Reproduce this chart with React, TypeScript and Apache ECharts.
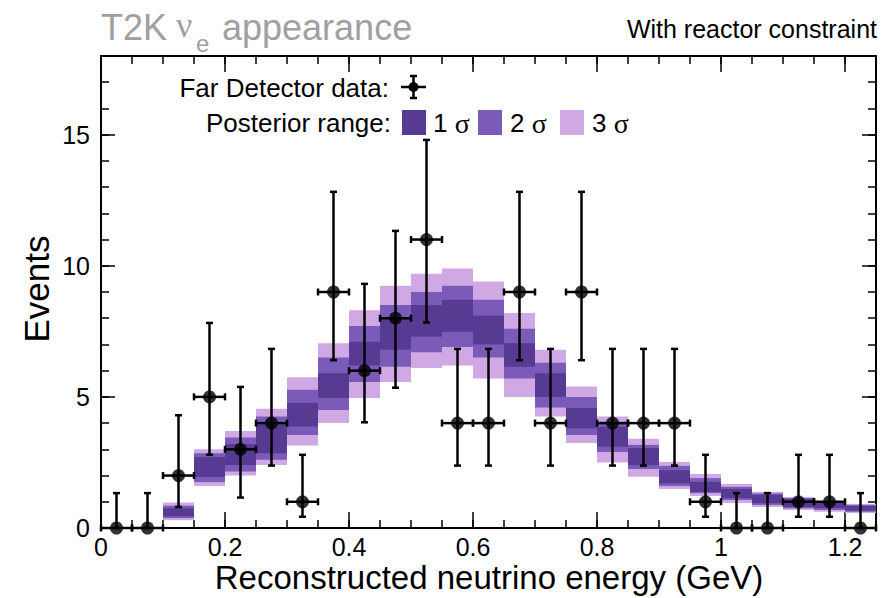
import React, { useEffect, useRef } from "react";
import * as echarts from "echarts";

// Bin edges and centres (GeV)
const binLow = [0, 0.05, 0.1, 0.15, 0.2, 0.25, 0.3, 0.35, 0.4, 0.45, 0.5, 0.55, 0.6, 0.65, 0.7, 0.75, 0.8, 0.85, 0.9, 0.95, 1.0, 1.05, 1.1, 1.15, 1.2];
const binHigh = [0.05, 0.1, 0.15, 0.2, 0.25, 0.3, 0.35, 0.4, 0.45, 0.5, 0.55, 0.6, 0.65, 0.7, 0.75, 0.8, 0.85, 0.9, 0.95, 1.0, 1.05, 1.1, 1.15, 1.2, 1.25];
const binCenter = [0.025, 0.075, 0.125, 0.175, 0.225, 0.275, 0.325, 0.375, 0.425, 0.475, 0.525, 0.575, 0.625, 0.675, 0.725, 0.775, 0.825, 0.875, 0.925, 0.975, 1.025, 1.075, 1.125, 1.175, 1.225];

// Far detector data
const counts = [0, 0, 2, 5, 3, 4, 1, 9, 6, 8, 11, 4, 4, 9, 4, 9, 4, 4, 4, 1, 0, 0, 1, 1, 0];
const errLower = [0, 0, 0.8, 2.79, 1.16, 2.38, 0.43, 6.4, 4.03, 5.35, 7.84, 2.38, 2.38, 6.4, 2.38, 6.4, 2.38, 2.38, 2.38, 0.43, 0, 0, 0.43, 0.43, 0];
const errUpper = [1.33, 1.33, 4.3, 7.82, 5.38, 6.83, 2.79, 12.82, 9.31, 11.33, 14.8, 6.83, 6.83, 12.82, 6.83, 12.82, 6.83, 6.83, 6.83, 2.79, 1.33, 1.33, 2.79, 2.79, 1.33];

// Posterior predictive ranges (null = no prediction drawn)
const sig3Lo = [null, null, 0.3, 1.6, 2.0, 2.4, 3.15, 4.0, 4.96, 5.57, 6.1, 6.2, 5.7, 5.0, 4.25, 3.24, 2.5, 1.95, 1.49, 1.22, 0.95, 0.8, 0.69, 0.62, 0.57];
const sig3Hi = [null, null, 0.97, 3.0, 3.7, 4.55, 5.75, 7.05, 8.3, 9.24, 9.7, 9.9, 9.4, 8.2, 6.8, 5.4, 4.25, 3.4, 2.52, 2.06, 1.68, 1.38, 1.18, 1.04, 0.92];
const sig2Lo = [null, null, 0.38, 1.75, 2.15, 2.6, 3.55, 4.5, 5.57, 6.15, 6.7, 6.9, 6.5, 5.7, 4.6, 3.55, 2.9, 2.25, 1.6, 1.33, 1.07, 0.88, 0.75, 0.69, 0.62];
const sig2Hi = [null, null, 0.85, 2.85, 3.45, 4.25, 5.27, 6.5, 7.7, 8.5, 9.0, 9.24, 8.7, 7.6, 6.3, 5.0, 4.05, 3.17, 2.37, 1.9, 1.57, 1.32, 1.14, 1.0, 0.88];
const sig1Lo = [null, null, 0.45, 1.95, 2.4, 2.85, 3.87, 4.96, 6.2, 6.8, 7.3, 7.48, 7.0, 6.15, 5.0, 3.8, 3.1, 2.4, 1.7, 1.38, 1.14, 0.95, 0.8, 0.76, 0.66];
const sig1Hi = [null, null, 0.75, 2.7, 3.2, 3.95, 4.77, 5.9, 7.1, 8.0, 8.5, 8.7, 8.1, 7.05, 5.9, 4.58, 3.86, 3.05, 2.2, 1.76, 1.49, 1.26, 1.1, 0.97, 0.84];

const xTickMajor = 0.2;
const xTickMinor = 0.05;
const yTickMajor = 5;
const yTickMinor = 1;
const xMax = 1.25;
const yMax = 18;

const C1 = "#573a92";
const C2 = "#7a5bb7";
const C3 = "#d0a8e3";
const SANS = "'Liberation Sans', Arial, Helvetica, sans-serif";
const SERIF = "'Liberation Serif', 'Times New Roman', serif";

function bandData(lo: (number | null)[], hi: (number | null)[]) {
  const out: number[][] = [];
  for (let i = 0; i < binLow.length; i++) {
    if (lo[i] == null || hi[i] == null) continue;
    out.push([binLow[i], binHigh[i], lo[i] as number, hi[i] as number]);
  }
  return out;
}

function bandSeries(name: string, lo: (number | null)[], hi: (number | null)[], color: string, z: number) {
  return {
    type: "custom",
    name,
    z,
    xAxisIndex: 0,
    yAxisIndex: 0,
    encode: { x: [0, 1], y: [2, 3] },
    data: bandData(lo, hi),
    renderItem: (params: any, api: any) => {
      const p1 = api.coord([api.value(0), api.value(3)]);
      const p2 = api.coord([api.value(1), api.value(2)]);
      return {
        type: "rect",
        shape: { x: p1[0], y: p1[1], width: p2[0] - p1[0], height: p2[1] - p1[1] },
        style: { fill: color },
      };
    },
  };
}

function App() {
  const ref = useRef<HTMLDivElement>(null);
  useEffect(() => {
    if (!ref.current) return;
    const chart = echarts.init(ref.current, undefined, { renderer: "svg" });

    const errData = binCenter.map((c, i) => [binLow[i], binHigh[i], counts[i], errLower[i], errUpper[i], c]);
    const pointData = binCenter.map((c, i) => [c, counts[i]]);

    const tickStyle = { color: "#000", width: 1.5 };
    const mkX = (position: string, interval: number, len: number, major: boolean, labels: boolean) => ({
      type: "value",
      position,
      min: 0,
      max: xMax,
      interval,
      splitLine: { show: false },
      axisLine: { show: major, onZero: false, lineStyle: { color: "#000", width: 2 } },
      axisTick: { show: true, inside: true, length: len, lineStyle: tickStyle },
      axisLabel: {
        show: labels,
        showMaxLabel: false,
        color: "#000",
        fontSize: 25,
        fontFamily: SANS,
        margin: 6,
      },
    });
    const mkY = (position: string, interval: number, len: number, major: boolean, labels: boolean) => ({
      type: "value",
      position,
      min: 0,
      max: yMax,
      interval,
      splitLine: { show: false },
      axisLine: { show: major, onZero: false, lineStyle: { color: "#000", width: 2 } },
      axisTick: { show: true, inside: true, length: len, lineStyle: tickStyle },
      axisLabel: {
        show: labels,
        showMaxLabel: false,
        color: "#000",
        fontSize: 25,
        fontFamily: SANS,
        margin: 11,
      },
    });

    const sigmaText = (n: string) => ({
      text: `{n|${n} }{s|σ}`,
      rich: { n: { font: `26px ${SANS}`, fill: "#000" }, s: { font: `28px ${SERIF}`, fill: "#000" } },
      textAlign: "left",
      textVerticalAlign: "middle",
    });

    const option: any = {
      animation: false,
      backgroundColor: "#fff",
      grid: { left: 101, right: 5, top: 56, bottom: 70, containLabel: false },
      xAxis: [
        mkX("bottom", xTickMajor, 16, true, true),
        mkX("bottom", xTickMinor, 8, false, false),
        mkX("top", xTickMajor, 16, true, false),
        mkX("top", xTickMinor, 8, false, false),
      ],
      yAxis: [
        mkY("left", yTickMajor, 14, true, true),
        mkY("left", yTickMinor, 8, false, false),
        mkY("right", yTickMajor, 14, true, false),
        mkY("right", yTickMinor, 8, false, false),
      ],
      series: [
        bandSeries("3 sigma", sig3Lo, sig3Hi, C3, 1),
        bandSeries("2 sigma", sig2Lo, sig2Hi, C2, 2),
        bandSeries("1 sigma", sig1Lo, sig1Hi, C1, 3),
        {
          type: "custom",
          name: "errors",
          z: 5,
          xAxisIndex: 0,
          yAxisIndex: 0,
          encode: { x: [0, 1], y: [3, 4] },
          data: errData,
          renderItem: (params: any, api: any) => {
            const l = api.coord([api.value(0), api.value(2)]);
            const r = api.coord([api.value(1), api.value(2)]);
            const b = api.coord([api.value(5), api.value(3)]);
            const t = api.coord([api.value(5), api.value(4)]);
            const cap = 3.5;
            const st = { stroke: "#000", lineWidth: 2.5 };
            const line = (x1: number, y1: number, x2: number, y2: number) => ({
              type: "line",
              shape: { x1, y1, x2, y2 },
              style: st,
            });
            return {
              type: "group",
              children: [
                line(t[0], t[1], b[0], b[1]),
                line(l[0], l[1], r[0], r[1]),
                line(t[0] - cap, t[1], t[0] + cap, t[1]),
                line(b[0] - cap, b[1], b[0] + cap, b[1]),
                line(l[0], l[1] - cap, l[0], l[1] + cap),
                line(r[0], r[1] - cap, r[0], r[1] + cap),
              ],
            };
          },
        },
        {
          type: "scatter",
          name: "Far Detector data",
          z: 6,
          xAxisIndex: 0,
          yAxisIndex: 0,
          symbol: "circle",
          symbolSize: 13,
          itemStyle: { color: "#000" },
          clip: false,
          data: pointData,
        },
      ],
      graphic: [
        { type: "text", x: 101, y: 27, style: { text: "T2K", font: `36px ${SANS}`, fill: "#a0a0a0", textAlign: "left", textVerticalAlign: "middle" } },
        { type: "text", x: 176, y: 25, style: { text: "ν", font: `36px ${SERIF}`, fill: "#a0a0a0", textAlign: "left", textVerticalAlign: "middle" } },
        { type: "text", x: 196, y: 43, style: { text: "e", font: `24px ${SANS}`, fill: "#a0a0a0", textAlign: "left", textVerticalAlign: "middle" } },
        { type: "text", x: 222, y: 27, style: { text: "appearance", font: `36px ${SANS}`, fill: "#a0a0a0", textAlign: "left", textVerticalAlign: "middle" } },
        { type: "text", x: 877, y: 29, style: { text: "With reactor constraint", font: `25px ${SANS}`, fill: "#000", textAlign: "right", textVerticalAlign: "middle" } },

        { type: "text", x: 389, y: 88, style: { text: "Far Detector data:", font: `26px ${SANS}`, fill: "#000", textAlign: "right", textVerticalAlign: "middle" } },
        { type: "line", shape: { x1: 401, y1: 87, x2: 426, y2: 87 }, style: { stroke: "#000", lineWidth: 2.5 } },
        { type: "line", shape: { x1: 413.5, y1: 76, x2: 413.5, y2: 98 }, style: { stroke: "#000", lineWidth: 2.5 } },
        { type: "line", shape: { x1: 410, y1: 76, x2: 417, y2: 76 }, style: { stroke: "#000", lineWidth: 2.5 } },
        { type: "line", shape: { x1: 410, y1: 98, x2: 417, y2: 98 }, style: { stroke: "#000", lineWidth: 2.5 } },
        { type: "circle", shape: { cx: 413.5, cy: 87, r: 5 }, style: { fill: "#000" } },

        { type: "text", x: 391, y: 123, style: { text: "Posterior range:", font: `26px ${SANS}`, fill: "#000", textAlign: "right", textVerticalAlign: "middle" } },
        { type: "rect", shape: { x: 402, y: 110, width: 24, height: 25 }, style: { fill: C1 } },
        { type: "text", x: 433, y: 123, style: sigmaText("1") },
        { type: "rect", shape: { x: 478, y: 110, width: 24, height: 25 }, style: { fill: C2 } },
        { type: "text", x: 510, y: 123, style: sigmaText("2") },
        { type: "rect", shape: { x: 560, y: 110, width: 24, height: 25 }, style: { fill: C3 } },
        { type: "text", x: 592, y: 123, style: sigmaText("3") },

        { type: "text", x: 489, y: 577, style: { text: "Reconstructed neutrino energy (GeV)", font: `33px ${SANS}`, fill: "#000", textAlign: "center", textVerticalAlign: "middle" } },
        { type: "text", x: 36, y: 289, rotation: Math.PI / 2, style: { text: "Events", font: `35px ${SANS}`, fill: "#000", textAlign: "center", textVerticalAlign: "middle" } },
      ],
    };
    chart.setOption(option);
    return () => chart.dispose();
  }, []);
  return (
    <div
      ref={ref}
      style={{ position: "fixed", left: 0, top: 0, width: 881, height: 598, background: "#fff" }}
    />
  );
}

export default App;
